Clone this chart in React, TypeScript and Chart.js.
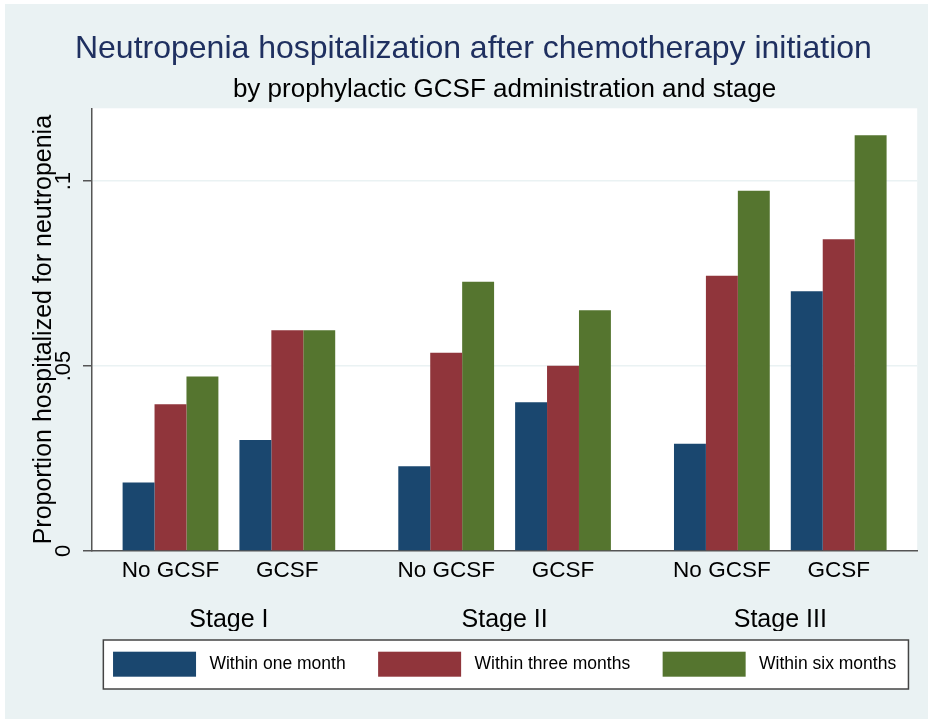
import React, { useEffect, useRef } from 'react';
import { Chart, registerables } from 'chart.js';

Chart.register(...registerables);

// ---- data ----
const stages = ['Stage I', 'Stage II', 'Stage III'];
const groups = ['No GCSF', 'GCSF'];
const seriesLabels = ['Within one month', 'Within three months', 'Within six months'];
const withinOneMonth = [0.0185, 0.03, 0.0229, 0.0402, 0.029, 0.0702];
const withinThreeMonths = [0.0397, 0.0597, 0.0536, 0.0501, 0.0744, 0.0843];
const withinSixMonths = [0.0472, 0.0597, 0.0728, 0.0651, 0.0974, 0.1124];
const yTickValues = [0, 0.05, 0.1];
const yTickLabels = ['0', '.05', '.1'];
const yMax = 0.1197;

const titleText = 'Neutropenia hospitalization after chemotherapy initiation';
const subtitleText = 'by prophylactic GCSF administration and stage';
const yTitleText = 'Proportion hospitalized for neutropenia';

// ---- layout helpers (category slots on a linear index scale) ----
const STAGE_PITCH = 2.36; // distance between stage groups, in units of the within-stage spacing
const X_PAD = 0.672;
const catPositions: number[] = [];
const catLabels: string[] = [];
stages.forEach((_, si) => {
  groups.forEach((g, gi) => {
    catPositions.push(si * STAGE_PITCH + gi);
    catLabels.push(g);
  });
});
const stageCenters = stages.map((_, si) => si * STAGE_PITCH + (groups.length - 1) / 2);
const xMin = catPositions[0] - X_PAD;
const xMax = catPositions[catPositions.length - 1] + X_PAD;

const FONT = "'Liberation Sans', Arial, Helvetica, sans-serif";
const COLORS = ['#1a476f', '#90353b', '#55752f'];
const BG = '#eaf2f3';
const AXIS = '#555555';

// legend styling (Stata-like boxed legend under the plot)
const LEG = {
  fontSize: 17.5,
  boxW: 83,
  boxH: 25,
  textGap: 13.4,
  itemGap: 32.5,
  offsetBelowPlot: 100.7,
  padL: 9.7,
  padR: 12.3,
  padT: 11.7,
  padB: 12.3,
};

const backgroundPlugin = {
  id: 'stataBackground',
  beforeDraw(chart: any) {
    const { ctx, width, height, chartArea } = chart;
    ctx.save();
    ctx.fillStyle = '#ffffff';
    ctx.fillRect(0, 0, width, height);
    ctx.fillStyle = BG;
    ctx.fillRect(5, 4, width - 5, height - 4);
    ctx.fillStyle = '#ffffff';
    ctx.fillRect(chartArea.left, chartArea.top, chartArea.right - chartArea.left, chartArea.bottom - chartArea.top);
    ctx.restore();
  },
  afterDraw(chart: any) {
    const { ctx, chartArea } = chart;
    const ds = chart.data.datasets;
    ctx.save();
    ctx.font = `${LEG.fontSize}px ${FONT}`;
    const widths = ds.map((d: any) => ctx.measureText(d.label).width);
    const itemWidths = widths.map((w: number) => LEG.boxW + LEG.textGap + w);
    const total = itemWidths.reduce((a: number, b: number) => a + b, 0) + LEG.itemGap * (ds.length - 1);
    const center = (chartArea.left + chartArea.right) / 2;
    const startX = center - total / 2;
    const swTop = chartArea.bottom + LEG.offsetBelowPlot;
    const bl = startX - LEG.padL;
    const br = startX + total + LEG.padR;
    const bt = swTop - LEG.padT;
    const bb = swTop + LEG.boxH + LEG.padB;
    ctx.fillStyle = '#ffffff';
    ctx.fillRect(bl, bt, br - bl, bb - bt);
    ctx.strokeStyle = '#444444';
    ctx.lineWidth = 1.5;
    ctx.strokeRect(bl, bt, br - bl, bb - bt);
    let x = startX;
    ds.forEach((d: any, i: number) => {
      ctx.fillStyle = d.backgroundColor;
      ctx.fillRect(x, swTop, LEG.boxW, LEG.boxH);
      ctx.fillStyle = '#000000';
      ctx.textAlign = 'left';
      ctx.textBaseline = 'middle';
      ctx.fillText(d.label, x + LEG.boxW + LEG.textGap, swTop + LEG.boxH / 2);
      x += itemWidths[i] + LEG.itemGap;
    });
    ctx.restore();
  },
};

export default function App() {
  const canvasRef = useRef<HTMLCanvasElement | null>(null);

  useEffect(() => {
    document.body.style.margin = '0';
    const canvas = canvasRef.current;
    if (!canvas) return;
    Chart.defaults.font.family = FONT;
    Chart.defaults.color = '#000000';

    const seriesValues = [withinOneMonth, withinThreeMonths, withinSixMonths];
    const datasets = seriesLabels.map((label, k) => ({
      label,
      xAxisID: 'x',
      yAxisID: 'y',
      backgroundColor: COLORS[k],
      borderWidth: 0,
      categoryPercentage: 0.82,
      barPercentage: 1,
      data: catPositions.map((x, i) => ({ x, y: seriesValues[k][i] })),
    }));

    const chart = new Chart(canvas, {
      type: 'bar',
      data: { datasets } as any,
      plugins: [backgroundPlugin],
      options: {
        responsive: false,
        animation: false,
        layout: { padding: { left: 29.6, right: 10.8, top: 0, bottom: 88 } },
        plugins: {
          title: {
            display: true,
            text: titleText,
            color: '#1f3060',
            font: { size: 32, weight: 'normal' },
            padding: { top: 29.7, bottom: 0 },
          },
          subtitle: {
            display: true,
            fullSize: false,
            text: subtitleText,
            color: '#000000',
            font: { size: 26, weight: 'normal' },
            padding: { top: 6.6, bottom: 2.4 },
          },
          legend: { display: false },
          tooltip: { enabled: false },
        },
        scales: {
          x: {
            type: 'linear',
            position: 'bottom',
            min: xMin,
            max: xMax,
            offset: false,
            z: 1,
            grid: { display: true, drawOnChartArea: false, drawTicks: false, offset: false },
            border: { display: true, color: AXIS, width: 1.5 },
            ticks: {
              padding: 6,
              color: '#000000',
              font: { size: 22.5 },
              autoSkip: false,
              maxRotation: 0,
              minRotation: 0,
              callback: (_v: any, i: number) => catLabels[i],
            },
            afterBuildTicks: (axis: any) => {
              axis.ticks = catPositions.map((v) => ({ value: v }));
            },
            afterFit: (s: any) => {
              s.height = 40;
            },
          },
          x2: {
            type: 'linear',
            position: 'bottom',
            min: xMin,
            max: xMax,
            offset: false,
            grid: { display: false },
            border: { display: false },
            ticks: {
              padding: 6.3,
              color: '#000000',
              font: { size: 25 },
              autoSkip: false,
              maxRotation: 0,
              minRotation: 0,
              callback: (_v: any, i: number) => stages[i],
            },
            afterBuildTicks: (axis: any) => {
              axis.ticks = stageCenters.map((v) => ({ value: v }));
            },
            afterFit: (s: any) => {
              s.height = 40;
            },
          },
          y: {
            type: 'linear',
            position: 'left',
            min: 0,
            max: yMax,
            grid: {
              color: BG,
              lineWidth: 1.5,
              tickLength: 9,
              tickColor: AXIS,
              tickWidth: 1.5,
            },
            border: { color: AXIS, width: 1.5 },
            ticks: {
              minRotation: 90,
              maxRotation: 90,
              crossAlign: 'center',
              padding: 3.3,
              color: '#000000',
              font: { size: 22 },
              callback: (_v: any, i: number) => yTickLabels[i],
            },
            afterBuildTicks: (axis: any) => {
              axis.ticks = yTickValues.map((v) => ({ value: v }));
            },
            title: {
              display: true,
              text: yTitleText,
              color: '#000000',
              font: { size: 25 },
              padding: { top: 0, bottom: 0 },
            },
            afterFit: (s: any) => {
              s.width = 62.4;
            },
          },
        },
      } as any,
    });

    return () => chart.destroy();
  }, []);

  return (
    <div style={{ width: 928, height: 719 }}>
      <canvas ref={canvasRef} width={928} height={719} style={{ display: 'block' }} />
    </div>
  );
}
